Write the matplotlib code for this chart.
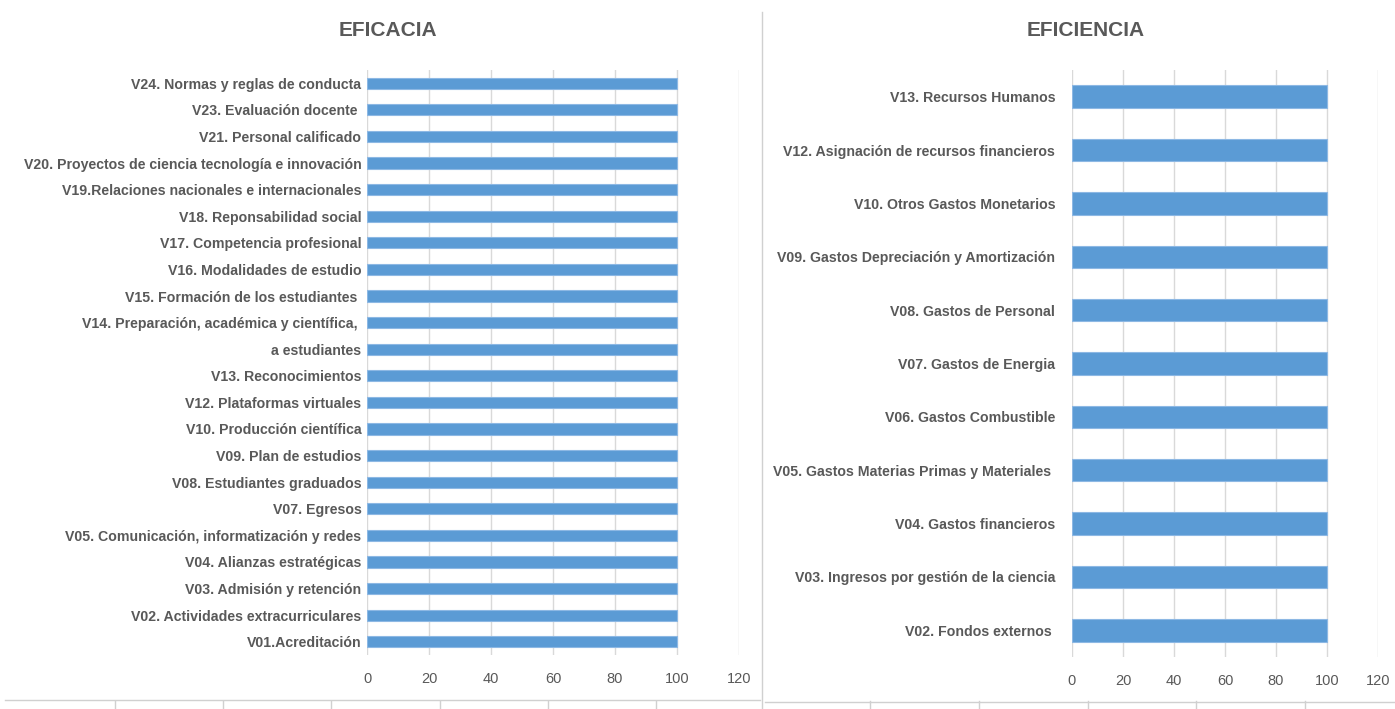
import matplotlib
matplotlib.use("Agg")
import matplotlib.pyplot as plt
from matplotlib.lines import Line2D

plt.rcParams["font.family"] = ["Liberation Sans", "DejaVu Sans"]

# EFICACIA, bottom to top
eficacia_labels = [
    "V01.Acreditación",
    "V02. Actividades extracurriculares",
    "V03. Admisión y retención",
    "V04. Alianzas estratégicas",
    "V05. Comunicación, informatización y redes",
    "V07. Egresos",
    "V08. Estudiantes graduados",
    "V09. Plan de estudios",
    "V10. Producción científica",
    "V12. Plataformas virtuales",
    "V13. Reconocimientos",
    "a estudiantes",
    "V14. Preparación, académica y científica, ",
    "V15. Formación de los estudiantes ",
    "V16. Modalidades de estudio",
    "V17. Competencia profesional",
    "V18. Reponsabilidad social",
    "V19.Relaciones nacionales e internacionales",
    "V20. Proyectos de ciencia tecnología e innovación",
    "V21. Personal calificado",
    "V23. Evaluación docente ",
    "V24. Normas y reglas de conducta",
]
eficacia_values = [100] * 22

# EFICIENCIA, bottom to top
eficiencia_labels = [
    "V02. Fondos externos ",
    "V03. Ingresos por gestión de la ciencia",
    "V04. Gastos financieros",
    "V05. Gastos Materias Primas y Materiales ",
    "V06. Gastos Combustible",
    "V07. Gastos de Energia",
    "V08. Gastos de Personal",
    "V09. Gastos Depreciación y Amortización",
    "V10. Otros Gastos Monetarios",
    "V12. Asignación de recursos financieros",
    "V13. Recursos Humanos",
]
eficiencia_values = [100] * 11

xticks = [0, 20, 40, 60, 80, 100, 120]

bar_color = "#5B9BD5"
edge_color = "#8DB8E4"
text_color = "#595959"
grid_color = "#D9D9D9"

fig = plt.figure(figsize=(13.95, 7.09), dpi=100)
fig.patch.set_facecolor("white")


def draw_panel(ax, labels, values, title, title_x, pad):
    pos = range(len(labels))
    ax.barh(pos, values, height=0.42, color=bar_color, edgecolor=edge_color, linewidth=0.8, zorder=3)
    ax.set_xlim(0, 120)
    ax.set_ylim(-0.5, len(labels) - 0.5)
    ax.set_xticks(xticks)
    ax.set_yticks(list(pos))
    ax.set_yticklabels(labels, fontsize=10.2, fontweight="bold", color=text_color)
    ax.tick_params(axis="x", labelsize=10.5, labelcolor=text_color, length=0, pad=12)
    ax.tick_params(axis="y", length=0, pad=pad)
    ax.grid(axis="x", color=grid_color, linewidth=1, zorder=0)
    for s in ax.spines.values():
        s.set_visible(False)
    fig.text(title_x, 1 - 31 / 709, title, ha="center", va="center",
             fontsize=15, fontweight="bold", color=text_color)


ax1 = fig.add_axes([367 / 1395, 1 - 655 / 709, (739 - 367) / 1395, 585 / 709])
draw_panel(ax1, eficacia_labels, eficacia_values, "EFICACIA", 388 / 1395, 4)

ax2 = fig.add_axes([1072 / 1395, 1 - 657 / 709, (1378 - 1072) / 1395, 587 / 709])
draw_panel(ax2, eficiencia_labels, eficiencia_values, "EFICIENCIA", 1086 / 1395, 12)

# sheet borders underneath the charts
W, H = 1395, 709
line_kw = dict(color="#D0D0D0", linewidth=1, transform=fig.transFigure)
fig.add_artist(Line2D([762 / W, 762 / W], [1 - 12 / H, 0], **line_kw))
fig.add_artist(Line2D([5 / W, 760 / W], [1 - 700 / H, 1 - 700 / H], **line_kw))
fig.add_artist(Line2D([765 / W, 1], [1 - 702 / H, 1 - 702 / H], **line_kw))
for xt in [115, 223, 331, 440, 548, 656, 870, 979, 1088, 1196, 1305]:
    fig.add_artist(Line2D([xt / W, xt / W], [1 - 701 / H, 0], **line_kw))

fig.savefig("out.png", dpi=100, facecolor="white")
